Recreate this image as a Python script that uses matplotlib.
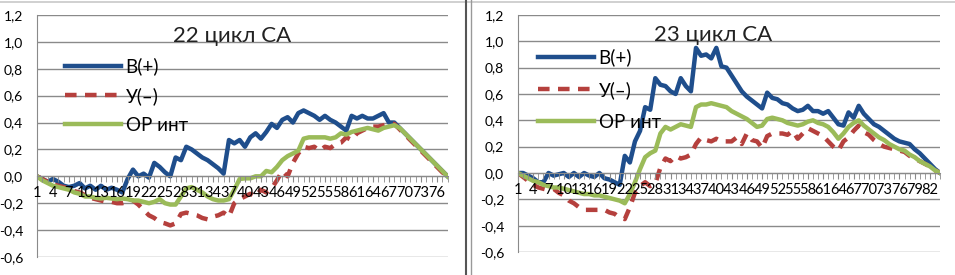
import numpy as np
import matplotlib
matplotlib.use("Agg")
import matplotlib.pyplot as plt
from matplotlib.lines import Line2D

plt.rcParams['font.family'] = ['Lato', 'DejaVu Sans']

# 22 цикл СА (78 точек)
b22 = [0.0, -0.02, -0.04, -0.02, -0.04, -0.07, -0.08, -0.07, -0.05, -0.09,
       -0.07, -0.10, -0.07, -0.10, -0.085, -0.10, -0.12, -0.02, 0.05, 0.0,
       0.02, -0.01, 0.10, 0.07, 0.03, 0.0, 0.14, 0.12, 0.22, 0.20,
       0.17, 0.14, 0.12, 0.09, 0.06, 0.02, 0.27, 0.245, 0.27, 0.22,
       0.29, 0.32, 0.28, 0.33, 0.39, 0.36, 0.42, 0.44, 0.40, 0.47,
       0.49, 0.47, 0.45, 0.42, 0.45, 0.42, 0.40, 0.37, 0.34, 0.45,
       0.43, 0.45, 0.43, 0.43, 0.45, 0.47, 0.40, 0.40, 0.36, 0.32,
       0.28, 0.24, 0.20, 0.16, 0.12, 0.08, 0.04, 0.0]
u22 = [0.0, -0.02, -0.04, -0.06, -0.07, -0.08, -0.09, -0.11, -0.12, -0.14,
       -0.16, -0.17, -0.18, -0.19, -0.19, -0.20, -0.20, -0.19, -0.18, -0.21,
       -0.25, -0.29, -0.31, -0.34, -0.35, -0.365, -0.35, -0.28, -0.27, -0.28,
       -0.29, -0.31, -0.32, -0.30, -0.29, -0.27, -0.30, -0.20, -0.17, -0.15,
       -0.13, -0.15, -0.10, -0.12, -0.09, -0.03, 0.04, 0.0, 0.10, 0.17,
       0.22, 0.21, 0.22, 0.19, 0.22, 0.21, 0.24, 0.25, 0.29, 0.27,
       0.32, 0.34, 0.36, 0.37, 0.37, 0.38, 0.39, 0.39, 0.35, 0.31,
       0.27, 0.23, 0.19, 0.15, 0.11, 0.07, 0.03, 0.0]
o22 = [0.0, -0.03, -0.05, -0.07, -0.08, -0.09, -0.10, -0.12, -0.13, -0.15,
       -0.15, -0.16, -0.165, -0.16, -0.165, -0.17, -0.165, -0.17, -0.18, -0.18,
       -0.19, -0.20, -0.19, -0.17, -0.20, -0.21, -0.21, -0.15, -0.09, -0.08,
       -0.10, -0.12, -0.15, -0.17, -0.18, -0.18, -0.17, -0.10, -0.02, -0.015,
       -0.015, 0.0, 0.0, 0.04, 0.03, 0.07, 0.12, 0.15, 0.17, 0.19,
       0.28, 0.29, 0.29, 0.29, 0.29, 0.28, 0.29, 0.32, 0.31, 0.33,
       0.34, 0.35, 0.36, 0.35, 0.34, 0.36, 0.37, 0.38, 0.36, 0.32,
       0.28, 0.24, 0.20, 0.16, 0.12, 0.08, 0.04, 0.0]

# 23 цикл СА (84 точки)
b23 = [0.0, 0.0, -0.02, -0.04, -0.07, -0.07, 0.0, -0.02, -0.01, 0.0,
       -0.03, 0.0, -0.03, 0.0, -0.02, -0.03, 0.0, -0.04, -0.05, -0.07,
       -0.09, 0.13, 0.08, 0.24, 0.32, 0.50, 0.48, 0.72, 0.67, 0.66,
       0.62, 0.60, 0.72, 0.66, 0.62, 0.95, 0.89, 0.90, 0.87, 0.95,
       0.81, 0.80, 0.74, 0.68, 0.62, 0.58, 0.55, 0.52, 0.49, 0.61,
       0.57, 0.56, 0.53, 0.52, 0.49, 0.47, 0.48, 0.51, 0.47, 0.47,
       0.45, 0.47, 0.42, 0.37, 0.36, 0.46, 0.42, 0.51, 0.45, 0.41,
       0.37, 0.35, 0.32, 0.29, 0.26, 0.24, 0.23, 0.22, 0.18, 0.15,
       0.11, 0.07, 0.03, 0.0]
u23 = [0.0, -0.03, -0.06, -0.09, -0.11, -0.12, -0.13, -0.12, -0.15, -0.17,
       -0.21, -0.23, -0.26, -0.28, -0.28, -0.28, -0.28, -0.28, -0.30, -0.31,
       -0.34, -0.35, -0.26, -0.15, -0.10, -0.07, -0.10, -0.08, 0.04, 0.11,
       0.09, 0.13, 0.11, 0.12, 0.14, 0.22, 0.27, 0.25, 0.24, 0.26,
       0.24, 0.24, 0.24, 0.27, 0.22, 0.30, 0.25, 0.24, 0.19, 0.28,
       0.30, 0.30, 0.30, 0.29, 0.32, 0.26, 0.30, 0.34, 0.32, 0.30,
       0.28, 0.24, 0.20, 0.17, 0.24, 0.27, 0.32, 0.36, 0.31, 0.29,
       0.25, 0.22, 0.20, 0.19, 0.18, 0.17, 0.16, 0.13, 0.11, 0.09,
       0.07, 0.05, 0.02, 0.0]
o23 = [0.0, -0.02, -0.04, -0.06, -0.07, -0.09, -0.10, -0.11, -0.11, -0.12,
       -0.13, -0.14, -0.15, -0.16, -0.16, -0.17, -0.17, -0.18, -0.19, -0.20,
       -0.21, -0.23, -0.16, -0.07, 0.03, 0.12, 0.15, 0.17, 0.30, 0.35,
       0.33, 0.35, 0.37, 0.36, 0.35, 0.50, 0.52, 0.52, 0.53, 0.52,
       0.51, 0.50, 0.47, 0.45, 0.43, 0.41, 0.38, 0.35, 0.36, 0.41,
       0.42, 0.41, 0.40, 0.38, 0.37, 0.36, 0.37, 0.39, 0.40, 0.38,
       0.37, 0.35, 0.31, 0.26, 0.30, 0.35, 0.38, 0.40, 0.36, 0.33,
       0.30, 0.27, 0.25, 0.22, 0.20, 0.18, 0.17, 0.14, 0.12, 0.09,
       0.07, 0.05, 0.02, 0.0]

titles = ["22 цикл СА", "23 цикл СА"]
labels = ["В(+)", "У(–)", "ОР инт"]
yticks = [-0.6, -0.4, -0.2, 0.0, 0.2, 0.4, 0.6, 0.8, 1.0, 1.2]

blue = "#1f4e8c"
red = "#b5403d"
green = "#9bbb59"

fig = plt.figure(figsize=(9.55, 2.75), dpi=100)
ax1 = fig.add_axes([0.0387, 0.0655, 0.430, 0.880])
ax2 = fig.add_axes([0.5424, 0.0836, 0.442, 0.862])

# axes, data, title, title pos, legend anchor, legend row spacing
panels = [(ax1, b22, u22, o22, titles[0], (0.474, 0.915), (0.049, 0.855), 0.62),
          (ax2, b23, u23, o23, titles[1], (0.462, 0.916), (0.029, 0.89), 0.78)]

for ax, b, u, o, title, tpos, lpos, lsp in panels:
    n = len(b)
    x = np.arange(1, n + 1)
    ax.plot(x, b, color=blue, lw=3.2, label=labels[0])
    ax.plot(x, u, color=red, lw=3.2, ls=(0, (2.6, 1.9)), label=labels[1])
    ax.plot(x, o, color=green, lw=3.2, label=labels[2])
    ax.set_xlim(1, n)
    ax.set_ylim(-0.6, 1.2)
    ax.set_yticks(yticks)
    ax.set_yticklabels([f"{v:.1f}".replace('.', ',') for v in yticks])
    ax.grid(axis='y', color='#8a8a8a', lw=1.0)
    ax.set_axisbelow(True)
    ax.xaxis.set_zorder(3)
    for s in ['top', 'right']:
        ax.spines[s].set_visible(False)
    ax.spines['left'].set_color('#8a8a8a')
    ax.spines['bottom'].set_position(('data', 0))
    ax.spines['bottom'].set_color('#8a8a8a')
    ax.set_xticks(np.arange(1, n + 1, 3))
    ax.set_xticklabels([str(i) for i in range(1, n + 1, 3)])
    ax.set_xticks(x, minor=True)
    ax.tick_params(axis='x', which='both', direction='out', length=4,
                   color='#8a8a8a', labelsize=10.5, pad=3)
    ax.tick_params(axis='y', length=0, labelsize=10, pad=10)
    ax.text(tpos[0], tpos[1], title, transform=ax.transAxes, ha='center',
            va='center', fontsize=16, color='#222222')
    ax.legend(loc='upper left', bbox_to_anchor=lpos, frameon=False,
              fontsize=13.5, handlelength=3.0, handletextpad=0.25,
              labelspacing=lsp, borderaxespad=0)

# frames of the two charts
fig.add_artist(Line2D([0, 1], [0.993, 0.993], color='#c8c8c8', lw=1.2))
fig.add_artist(Line2D([0.488, 0.488], [0, 1], color='#555555', lw=1.5))
fig.add_artist(Line2D([0.4935, 0.4935], [0, 1], color='#999999', lw=1.0))

fig.savefig("out.png", dpi=100)
